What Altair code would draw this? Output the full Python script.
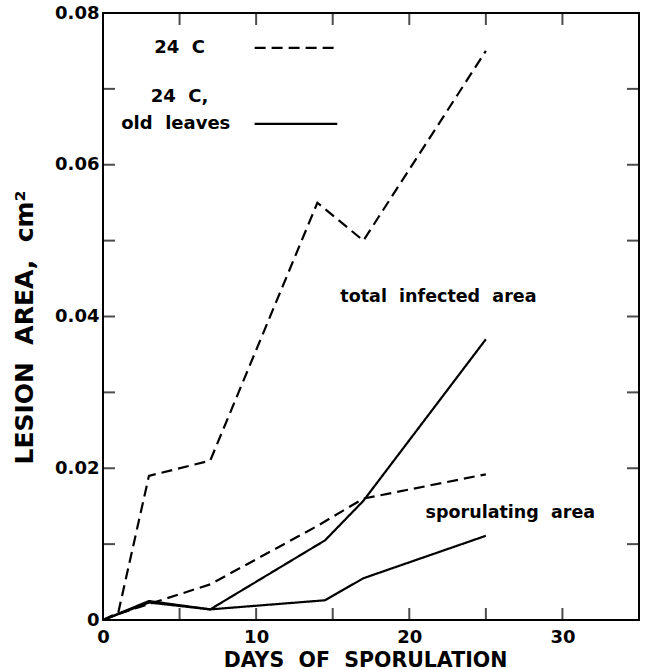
import altair as alt
import pandas as pd

# Lesion area (cm^2) against days of sporulation
days_24c = [0, 1, 3, 7, 14, 17, 25]
total_24c = [0, 0.001, 0.019, 0.021, 0.055, 0.050, 0.075]
spor_24c = [0, 0.0008, 0.0021, 0.0047, 0.0124, 0.0160, 0.0192]

days_old = [0, 3, 7, 14.5, 17, 25]
total_old = [0, 0.0025, 0.0014, 0.0105, 0.0157, 0.037]
spor_old = [0, 0.0023, 0.0014, 0.0026, 0.0055, 0.0111]

conditions = ["24 C", "24 C, old leaves"]

# axis labels and inner tick positions
x_labels = [0, 10, 20, 30]
y_labels = [0, 0.02, 0.04, 0.06, 0.08]
x_minor = [5, 10, 15, 20, 25, 30]
y_minor = [0.01, 0.02, 0.03, 0.04, 0.05, 0.06, 0.07]

# key drawn inside the plot
key_cond = conditions
key_x0 = [9.9, 9.9]
key_x1 = [15.3, 15.3]
key_y = [0.0754, 0.0654]
key_text = ["24\u00a0 C", "24\u00a0 C,", "old\u00a0 leaves"]
key_text_x = [5.0, 5.0, 4.75]
key_text_y = [0.0754, 0.0689, 0.0654]

# curve annotations
note_text = ["total\u00a0 infected\u00a0 area", "sporulating\u00a0 area"]
note_x = [21.9, 26.6]
note_y = [0.0426, 0.0141]

W, H = 536, 607
FONT = "DejaVu Sans"
DASH = [11, 6]

rows = []
for name, cond, days, vals in [
    ("total 24", conditions[0], days_24c, total_24c),
    ("spor 24", conditions[0], days_24c, spor_24c),
    ("total old", conditions[1], days_old, total_old),
    ("spor old", conditions[1], days_old, spor_old),
]:
    for d, v in zip(days, vals):
        rows.append({"series": name, "cond": cond, "day": d, "area": v})
df = pd.DataFrame(rows)

xs = alt.Scale(domain=[0, 35], nice=False, zero=False)
ys = alt.Scale(domain=[0, 0.08], nice=False, zero=False)
dash_scale = alt.Scale(domain=conditions, range=[DASH, [1, 0]])

x_axis = alt.Axis(
    values=x_labels, ticks=False, tickSize=0, domain=False, grid=False,
    labelFont=FONT, labelFontWeight="bold", labelFontSize=18,
    labelColor="black", labelPadding=8, labelFlush=False,
    title="DAYS\u00a0 OF\u00a0 SPORULATION", titleFont=FONT,
    titleFontWeight="bold", titleFontSize=20.5, titleColor="black",
    titleX=262, titleY=46, titleBaseline="alphabetic", titleAlign="center")
y_axis = alt.Axis(
    values=y_labels, ticks=False, tickSize=0, domain=False, grid=False,
    labelFont=FONT, labelFontWeight="bold", labelFontSize=18,
    labelColor="black", labelPadding=4, labelFlush=False,
    labelExpr="datum.value == 0 ? '0' : format(datum.value, '.2f')",
    title="LESION\u00a0 AREA,\u00a0 cm²", titleFont=FONT,
    titleFontWeight="bold", titleFontSize=25, titleColor="black",
    titleAngle=-90, titleX=-79, titleY=314, titleBaseline="middle",
    titleAlign="center")


def X(field):
    return alt.X(field, scale=xs, axis=x_axis)


def Y(field):
    return alt.Y(field, scale=ys, axis=y_axis)


lines = alt.Chart(df).mark_line(color="black", strokeWidth=2.2).encode(
    x=X("day:Q"),
    y=Y("area:Q"),
    strokeDash=alt.StrokeDash("cond:N", scale=dash_scale, legend=None),
    detail="series:N",
)

key_df = pd.DataFrame({"cond": key_cond, "x0": key_x0, "x1": key_x1, "y": key_y})
key_lines = alt.Chart(key_df).mark_rule(color="black", strokeWidth=2.2).encode(
    x=X("x0:Q"),
    x2="x1:Q",
    y=Y("y:Q"),
    strokeDash=alt.StrokeDash("cond:N", scale=dash_scale, legend=None),
)

key_labels = alt.Chart(pd.DataFrame({"t": key_text, "x": key_text_x, "y": key_text_y})).mark_text(
    font=FONT, fontWeight="bold", fontSize=18, color="black", align="center", baseline="middle"
).encode(x=X("x:Q"), y=Y("y:Q"), text="t:N")

notes = alt.Chart(pd.DataFrame({"t": note_text, "x": note_x, "y": note_y})).mark_text(
    font=FONT, fontWeight="bold", fontSize=17.5, color="black", align="center", baseline="middle"
).encode(x=X("x:Q"), y=Y("y:Q"), text="t:N")

# inward ticks on all four sides of the frame
xt = pd.DataFrame({"d": x_minor})
yt = pd.DataFrame({"v": y_minor})
tick_style = dict(color="black", size=12, thickness=2)
bottom_ticks = alt.Chart(xt).mark_tick(orient="vertical", **tick_style).encode(
    x=X("d:Q"), y=alt.value(H - 6))
top_ticks = alt.Chart(xt).mark_tick(orient="vertical", **tick_style).encode(
    x=X("d:Q"), y=alt.value(6))
left_ticks = alt.Chart(yt).mark_tick(orient="horizontal", **tick_style).encode(
    y=Y("v:Q"), x=alt.value(6))
right_ticks = alt.Chart(yt).mark_tick(orient="horizontal", **tick_style).encode(
    y=Y("v:Q"), x=alt.value(W - 6))

chart = alt.layer(
    lines, key_lines, key_labels, notes,
    bottom_ticks, top_ticks, left_ticks, right_ticks,
).properties(
    width=W, height=H,
    autosize=alt.AutoSizeParams(type="none"),
    padding={"left": 103, "top": 13, "right": 6, "bottom": 50},
    background="white",
).configure_view(stroke="black", strokeWidth=2)

chart.save("out.html", embed_options={"renderer": "svg", "actions": False})
